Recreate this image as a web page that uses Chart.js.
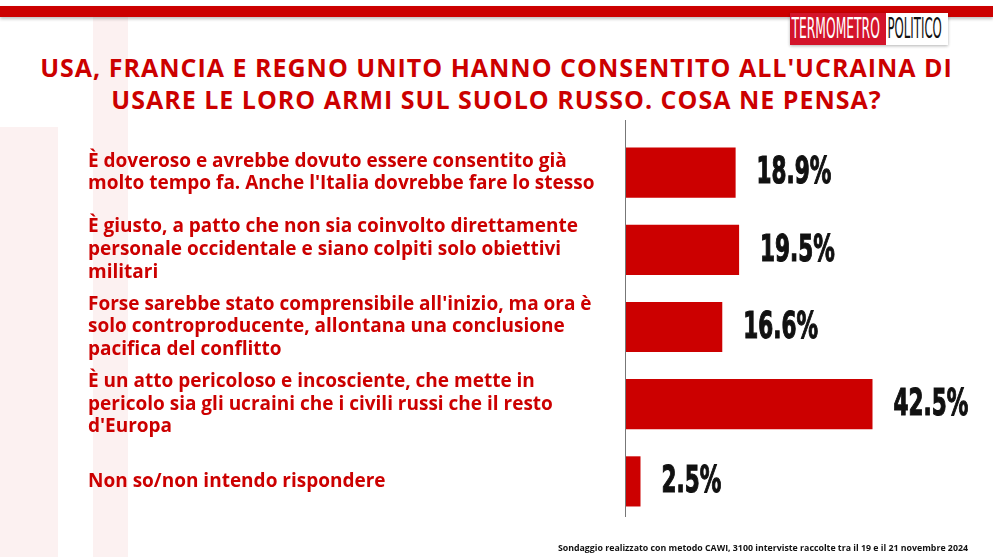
<!DOCTYPE html>
<html>
<head>
<meta charset="utf-8">
<script src="https://cdn.jsdelivr.net/npm/chart.js@4.4.0/dist/chart.umd.min.js"></script>
<style>
  html, body { margin:0; padding:0; background:#fff; }
  body { width:993px; height:557px; position:relative; overflow:hidden; font-family:'Open Sans', sans-serif; }
  .wm { position:absolute; background:#fcf1f1; }
  #topbar { position:absolute; left:0; top:6px; width:993px; height:11px; background:#cc0000; box-shadow:0 2px 3px rgba(0,0,0,0.25); }
  #logo { position:absolute; left:790px; top:13px; height:32px; display:flex; box-shadow:0 1px 3px rgba(0,0,0,0.3); font-family:'DejaVu Sans Condensed',sans-serif; font-size:28px; line-height:32px; }
  #logo .a, #logo .b { display:block; overflow:hidden; height:32px; }
  #logo .a { background:#d3142a; color:#fff; width:96px; }
  #logo .b { background:#fff; color:#111; width:62px; }
  #logo span { display:inline-block; transform-origin:0 50%; white-space:nowrap; padding-left:3px; }
  #title { position:absolute; left:0; top:51px; width:993px; text-align:center; color:#cc0000; font-weight:700; font-size:25px; letter-spacing:1px; line-height:32px; }
  #foot { position:absolute; right:25px; top:542px; font-weight:700; font-size:8.8px; color:#111; }
  #wrap { position:absolute; left:0; top:0; width:993px; height:557px; }
</style>
</head>
<body>
<div class="wm" style="left:0;top:127px;width:58px;height:430px;"></div>
<div class="wm" style="left:93px;top:17px;width:35px;height:540px;"></div>
<div id="topbar"></div>
<div id="logo"><div class="a"><span>TERMOMETRO</span></div><div class="b"><span>POLITICO</span></div></div>
<div id="title">USA, FRANCIA E REGNO UNITO HANNO CONSENTITO ALL'UCRAINA DI<br>USARE LE LORO ARMI SUL SUOLO RUSSO. COSA NE PENSA?</div>
<div id="wrap"><canvas id="chart"></canvas></div>
<div id="foot">Sondaggio realizzato con metodo CAWI, 3100 interviste raccolte tra il 19 e il 21 novembre 2024</div>
<script>
const categories = [
  ["È doveroso e avrebbe dovuto essere consentito già", "molto tempo fa. Anche l'Italia dovrebbe fare lo stesso"],
  ["È giusto, a patto che non sia coinvolto direttamente", "personale occidentale e siano colpiti solo obiettivi", "militari"],
  ["Forse sarebbe stato comprensibile all'inizio, ma ora è", "solo controproducente, allontana una conclusione", "pacifica del conflitto"],
  ["È un atto pericoloso e incosciente, che mette in", "pericolo sia gli ucraini che i civili russi che il resto", "d'Europa"],
  ["Non so/non intendo rispondere"]
];
const values = [18.9, 19.5, 16.6, 42.5, 2.5];

// squeeze logo words into their boxes
document.querySelectorAll('#logo span').forEach(s => {
  const box = s.parentNode.clientWidth - 6;
  s.style.transform = 'scaleX(' + (box / s.offsetWidth) + ')';
});

const valueLabels = {
  id: 'valueLabels',
  afterDatasetsDraw(chart) {
    const ctx = chart.ctx;
    const meta = chart.getDatasetMeta(0);
    ctx.save();
    ctx.fillStyle = '#111';
    ctx.font = 'bold 38px "DejaVu Sans Condensed", sans-serif';
    ctx.textBaseline = 'middle';
    meta.data.forEach((bar, i) => {
      const txt = values[i].toFixed(1) + '%';
      ctx.save();
      ctx.translate(bar.x + 21, bar.y);
      ctx.scale(0.63, 1);
      ctx.fillText(txt, 0, 1);
      ctx.strokeStyle = '#111';
      ctx.lineWidth = 1.2;
      ctx.strokeText(txt, 0, 1);
      ctx.restore();
    });
    ctx.restore();
  }
};

const axisLine = {
  id: 'axisLine',
  afterDraw(chart) {
    const {ctx, chartArea} = chart;
    ctx.save();
    ctx.strokeStyle = '#777';
    ctx.lineWidth = 1;
    ctx.beginPath();
    ctx.moveTo(chartArea.left - 0.5, chartArea.top - 14);
    ctx.lineTo(chartArea.left - 0.5, chartArea.bottom - 3);
    ctx.stroke();
    ctx.restore();
  }
};

const ctx = document.getElementById('chart').getContext('2d');
new Chart(ctx, {
  type: 'bar',
  data: {
    labels: categories,
    datasets: [{
      data: values,
      backgroundColor: '#cc0000',
      borderWidth: 0,
      barPercentage: 0.65,
      categoryPercentage: 1
    }]
  },
  options: {
    indexAxis: 'y',
    responsive: true,
    maintainAspectRatio: false,
    animation: false,
    layout: { padding: { left: 88, top: 134, bottom: 37, right: 19 } },
    plugins: {
      legend: { display: false },
      tooltip: { enabled: false }
    },
    scales: {
      x: { display: false, min: 0, max: 60 },
      y: {
        afterFit(scale) { scale.width = 538; },
        grid: { display: false, drawTicks: false },
        border: { display: false },
        ticks: {
          crossAlign: 'far',
          color: '#cc0000',
          font: { family: 'Open Sans', weight: 'bold', size: 19 },
          lineHeight: 1.16
        }
      }
    }
  },
  plugins: [valueLabels, axisLine]
});
</script>
</body>
</html>
